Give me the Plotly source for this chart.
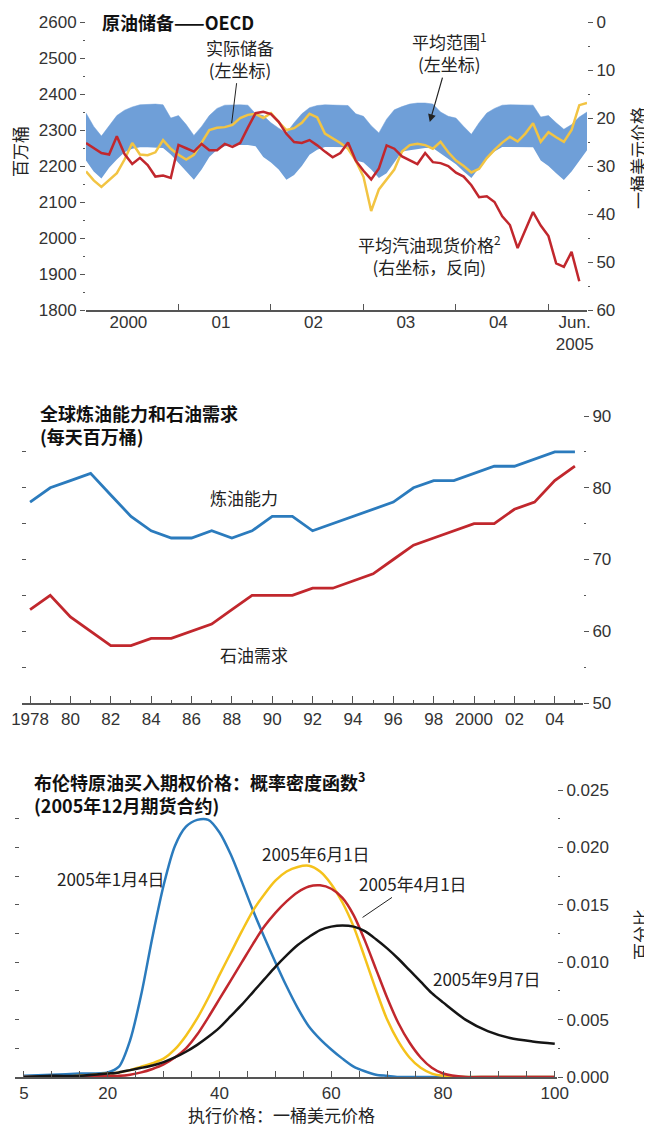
import plotly.graph_objects as go

FONT = "Liberation Sans, Noto Sans CJK SC, sans-serif"
CJK = "Noto Sans CJK SC, Liberation Sans, sans-serif"

BAND = "#6f9fd8"
YELLOW = "#f2c443"
RED = "#c1272d"
BLUE = "#2b7bbd"
BLACK = "#151515"
AXIS = "#555555"
TXT = "#222222"

# the page body keeps its default 8px margin, so the figure is 8px smaller
W, H = 644, 1121

# ---------- panel 1: OECD crude stocks, monthly Jan 2000 .. Jun 2005 ----------
months = list(range(66))
range_low = [2215, 2185, 2165, 2195, 2218, 2238, 2248, 2252, 2252, 2252, 2250, 2232,
             2208, 2185, 2162, 2190, 2225, 2245, 2255, 2258, 2258, 2258, 2255, 2225,
             2210, 2190, 2162, 2175, 2200, 2231, 2245, 2253, 2253, 2253, 2252, 2215,
             2210, 2190, 2167, 2180, 2210, 2240, 2244, 2248, 2250, 2250, 2235, 2222,
             2205, 2185, 2167, 2195, 2222, 2240, 2253, 2253, 2253, 2253, 2252, 2215,
             2200, 2180, 2161, 2185, 2215, 2244]
range_high = [2347, 2310, 2283, 2310, 2340, 2355, 2364, 2370, 2372, 2372, 2370, 2333,
              2340, 2315, 2285, 2310, 2340, 2360, 2369, 2370, 2370, 2369, 2345, 2340,
              2320, 2305, 2292, 2320, 2345, 2362, 2368, 2370, 2370, 2370, 2368, 2345,
              2338, 2312, 2292, 2330, 2356, 2365, 2372, 2375, 2375, 2372, 2350, 2338,
              2333, 2310, 2288, 2320, 2347, 2360, 2369, 2370, 2370, 2370, 2369, 2336,
              2340, 2320, 2302, 2315, 2336, 2350]
stocks = [2185, 2160, 2142, 2160, 2180, 2218, 2264, 2232, 2230, 2238, 2272, 2248,
          2231, 2218, 2231, 2265, 2300, 2306, 2308, 2314, 2333, 2342, 2345, 2333,
          2347, 2322, 2300, 2305, 2320, 2345, 2335, 2290, 2278, 2264, 2248, 2215,
          2170, 2075, 2135, 2161, 2190, 2240, 2258, 2262, 2258, 2248, 2267, 2238,
          2215, 2200, 2182, 2192, 2222, 2245, 2265, 2281, 2268, 2290, 2319, 2267,
          2294, 2280, 2267, 2300, 2369, 2375]
gasoline = [25.2, 26.3, 27.3, 27.6, 23.8, 27.5, 29.6, 28.3, 29.8, 32.2, 32.0, 32.5,
            25.6, 26.3, 27.0, 25.4, 26.7, 26.7, 25.4, 26.0, 25.2, 22.0, 19.0, 18.7,
            19.2, 20.8, 23.3, 25.0, 25.2, 24.6, 25.7, 27.0, 28.2, 27.3, 25.1, 28.9,
            31.0, 32.8, 30.5, 25.7, 26.4, 28.0, 28.8, 29.6, 27.3, 29.2, 29.4, 30.0,
            31.4, 32.2, 34.0, 36.5, 36.3, 37.5, 40.5, 42.3, 47.1, 43.3, 39.6, 42.4,
            44.6, 50.3, 51.0, 47.9, 54.0]
year_starts = [0, 12, 24, 36, 48, 60]
year_mid = [5.5, 17.5, 29.5, 41.5, 53.5, 63.4]
year_labels = ["2000", "01", "02", "03", "04", "Jun.<br>2005"]

# ---------- panel 2: refining capacity vs demand ----------
years = list(range(1978, 2006))
capacity = [78, 80, 81, 82, 79, 76, 74, 73, 73, 74, 73, 74, 76, 76, 74, 75, 76, 77, 78, 80,
            81, 81, 82, 83, 83, 84, 85, 85]
demand = [63, 65, 62, 60, 58, 58, 59, 59, 60, 61, 63, 65, 65, 65, 66, 66, 67, 68, 70, 72,
          73, 74, 75, 75, 77, 78, 81, 83]
year_ticks = list(range(1978, 2005, 2))
year_ticktext = ["1978", "80", "82", "84", "86", "88", "90", "92", "94", "96", "98",
                 "2000", "02", "04"]

# ---------- panel 3: Brent call option implied densities ----------
strike = [5, 10, 15, 20, 22, 24, 26, 28, 30, 32, 34, 36, 38, 40, 42, 44, 46, 48, 50, 52,
          54, 56, 58, 60, 62, 64, 66, 68, 70, 72, 74, 76, 78, 80, 84, 88, 92, 96, 100]
pdf_jan4 = [0.0001, 0.0002, 0.0003, 0.0004, 0.0009, 0.0032, 0.0072, 0.0122, 0.0167, 0.0201,
            0.0218, 0.0224, 0.0224, 0.0213, 0.0194, 0.0170, 0.0145, 0.0122, 0.0100, 0.0079,
            0.0060, 0.0044, 0.0033, 0.0024, 0.0016, 0.0009, 0.0005, 0.0002, 0.0001, 0.0,
            0.0, 0.0, 0.0, 0.0, 0.0, 0.0, 0.0, 0.0, 0.0]
pdf_jun1 = [0.0, 0.0, 0.0001, 0.0003, 0.0004, 0.0006, 0.0009, 0.0012, 0.0016, 0.0024,
            0.0036, 0.0051, 0.0069, 0.0089, 0.0108, 0.0127, 0.0145, 0.0159, 0.0171, 0.0179,
            0.0183, 0.0184, 0.0179, 0.0168, 0.0152, 0.0131, 0.0104, 0.0076, 0.0050, 0.0031,
            0.0017, 0.0008, 0.0003, 0.0001, 0.0, 0.0, 0.0, 0.0, 0.0]
pdf_apr1 = [0.0, 0.0, 0.0, 0.0001, 0.0001, 0.0002, 0.0004, 0.0007, 0.0011, 0.0017,
            0.0025, 0.0037, 0.0052, 0.0068, 0.0084, 0.0100, 0.0116, 0.0131, 0.0143, 0.0153,
            0.0161, 0.0166, 0.0167, 0.0164, 0.0156, 0.0141, 0.0119, 0.0094, 0.0069, 0.0047,
            0.0030, 0.0017, 0.0008, 0.0003, 0.0, 0.0, 0.0, 0.0, 0.0]
pdf_sep7 = [0.0, 0.0001, 0.0001, 0.0003, 0.0004, 0.0006, 0.0008, 0.0010, 0.0013, 0.0017,
            0.0022, 0.0028, 0.0035, 0.0043, 0.0053, 0.0063, 0.0074, 0.0085, 0.0096, 0.0106,
            0.0115, 0.0122, 0.0128, 0.0131, 0.0132, 0.0131, 0.0127, 0.0120, 0.0112, 0.0103,
            0.0093, 0.0083, 0.0073, 0.0065, 0.0050, 0.0040, 0.0034, 0.0031, 0.0029]
strike_ticks = [5, 20, 40, 60, 80, 100]


def px_x(p):
    # page pixel -> paper fraction
    return (p - 8) / W


def px_y(p):
    return (1129 - p) / H


fig = go.Figure()

# panel 1
fig.add_trace(go.Scatter(x=months, y=range_low, mode="lines", line=dict(width=0, color=BAND),
                         hoverinfo="skip"))
fig.add_trace(go.Scatter(x=months, y=range_high, mode="lines", line=dict(width=0.5, color=BAND),
                         fill="tonexty", fillcolor=BAND, name="平均范围"))
fig.add_trace(go.Scatter(x=months, y=stocks, mode="lines", line=dict(width=2.5, color=YELLOW),
                         name="实际储备"))
fig.add_trace(go.Scatter(x=months[:len(gasoline)], y=gasoline, mode="lines", xaxis="x2", yaxis="y2",
                         line=dict(width=2.5, color=RED), name="平均汽油现货价格"))

# panel 2
fig.add_trace(go.Scatter(x=years, y=capacity, mode="lines", xaxis="x3", yaxis="y3",
                         line=dict(width=2.8, color=BLUE), name="炼油能力"))
fig.add_trace(go.Scatter(x=years, y=demand, mode="lines", xaxis="x3", yaxis="y4",
                         line=dict(width=2.8, color=RED), name="石油需求"))

# panel 3
fig.add_trace(go.Scatter(x=strike, y=pdf_jan4, mode="lines", xaxis="x4", yaxis="y5",
                         line=dict(width=2.5, color=BLUE, shape="spline", smoothing=0.8),
                         name="2005年1月4日"))
fig.add_trace(go.Scatter(x=strike, y=pdf_jun1, mode="lines", xaxis="x4", yaxis="y5",
                         line=dict(width=2.5, color="#f5c21b", shape="spline", smoothing=0.8),
                         name="2005年6月1日"))
fig.add_trace(go.Scatter(x=strike, y=pdf_apr1, mode="lines", xaxis="x4", yaxis="y6",
                         line=dict(width=2.5, color=RED, shape="spline", smoothing=0.8),
                         name="2005年4月1日"))
fig.add_trace(go.Scatter(x=strike, y=pdf_sep7, mode="lines", xaxis="x4", yaxis="y6",
                         line=dict(width=2.5, color=BLACK, shape="spline", smoothing=0.8),
                         name="2005年9月7日"))

tickfont = dict(family=FONT, size=17, color="#333333")
base = dict(showgrid=False, zeroline=False, tickfont=tickfont, fixedrange=True, automargin=False)

fig.update_layout(
    template="none",
    width=W, height=H,
    margin=dict(l=0, r=0, t=0, b=0, pad=0, autoexpand=False),
    paper_bgcolor="white", plot_bgcolor="white",
    showlegend=False,
    font=dict(family=CJK, color=TXT),
    # panel 1
    xaxis=dict(base, domain=[px_x(86), px_x(587)], anchor="y", range=[0, 65],
               tickmode="array", tickvals=year_starts, showticklabels=False,
               ticks="inside", ticklen=6, tickcolor=AXIS,
               showline=True, linecolor=AXIS, linewidth=2),
    xaxis2=dict(base, overlaying="x", anchor="y", range=[0, 65], showline=False,
                tickmode="array", tickvals=year_mid, ticktext=year_labels, ticks=""),
    yaxis=dict(base, domain=[px_y(310), px_y(22)], anchor="x", range=[1800, 2600], showline=False,
               tick0=0, dtick=100, ticks="outside", ticklen=5, tickcolor=AXIS,
               minor=dict(tickmode="linear", tick0=0, dtick=50, ticks="outside", ticklen=2,
                          tickcolor=AXIS)),
    yaxis2=dict(base, overlaying="y", anchor="x", side="right", range=[60, 0], showline=False,
                tick0=0, dtick=10, ticks="outside", ticklen=5, tickcolor=AXIS,
                minor=dict(tickmode="linear", tick0=0, dtick=5, ticks="outside", ticklen=2,
                           tickcolor=AXIS)),
    # panel 2
    xaxis3=dict(base, domain=[px_x(22), px_x(583)], anchor="y3", range=[1977.6, 2005.4],
                tickmode="array", tickvals=year_ticks, ticktext=year_ticktext,
                ticks="inside", ticklen=7, tickcolor=AXIS,
                minor=dict(tickmode="array", tickvals=list(range(1979, 2006, 2)),
                           ticks="inside", ticklen=3, tickcolor=AXIS),
                showline=True, linecolor=AXIS, linewidth=2),
    yaxis3=dict(base, domain=[px_y(703), px_y(416)], anchor="x3", side="right", range=[50, 90],
                showline=False, tick0=0, dtick=10, ticks="outside", ticklen=5, tickcolor=AXIS,
                minor=dict(tickmode="linear", tick0=0, dtick=5, ticks="outside", ticklen=2,
                           tickcolor=AXIS)),
    yaxis4=dict(base, overlaying="y3", anchor="x3", side="left", range=[50, 90],
                showline=False, tick0=0, dtick=5, ticks="inside", ticklen=4, tickcolor=AXIS,
                showticklabels=False),
    # panel 3
    xaxis4=dict(base, domain=[px_x(15), px_x(557)], anchor="y5", range=[3.4, 100.4],
                tickmode="array", tickvals=strike_ticks,
                ticks="inside", ticklen=6, tickcolor=AXIS,
                minor=dict(tickmode="linear", tick0=0, dtick=5, ticks="inside", ticklen=6,
                           tickcolor=AXIS),
                showline=True, linecolor=AXIS, linewidth=2),
    yaxis5=dict(base, domain=[px_y(1077), px_y(790)], anchor="x4", side="right", range=[0, 0.025],
                showline=False, tick0=0, dtick=0.005, tickformat=".3f", ticks="outside",
                ticklen=5, tickcolor=AXIS,
                minor=dict(tickmode="linear", tick0=0, dtick=0.0025, ticks="outside",
                           ticklen=2, tickcolor=AXIS)),
    yaxis6=dict(base, overlaying="y5", anchor="x4", side="left", range=[0, 0.025],
                showline=False, tick0=0, dtick=0.0025, ticks="inside", ticklen=4,
                tickcolor=AXIS, showticklabels=False),
)

lab = dict(family=CJK, size=17, color=TXT)
bold = dict(family=CJK, size=18, color="#111111")
mid = dict(xanchor="center", yanchor="middle")

annotations = [
    # panel 1
    dict(xref="x", yref="y", x=1.8, y=2600, xanchor="left", yanchor="middle",
         text="<b>原油储备——OECD</b>", showarrow=False, font=bold),
    dict(xref="x", yref="y", x=18.9, y=2319, text="实际储备<br>(左坐标)", font=lab,
         showarrow=True, arrowhead=0, arrowwidth=1, arrowcolor=TXT, ax=8, ay=-65),
    dict(xref="x", yref="y", x=44.6, y=2322, text="平均范围<sup>1</sup><br>(左坐标)", font=lab,
         showarrow=True, arrowhead=2, arrowsize=1.3, arrowwidth=1.2, arrowcolor=TXT,
         ax=20, ay=-70),
    dict(mid, xref="x", yref="y", x=44.6, y=1953, showarrow=False, font=lab,
         text="平均汽油现货价格<sup>2</sup><br>(右坐标，反向)"),
    dict(mid, xref="paper", yref="paper", x=px_x(19), y=px_y(152), text="百万桶",
         textangle=-90, showarrow=False, font=lab),
    dict(mid, xref="paper", yref="paper", x=px_x(637), y=px_y(158), text="一桶美元价格",
         textangle=-90, showarrow=False, font=lab),
    # panel 2
    dict(xref="x3", yref="y3", x=1978.4, y=88.8, xanchor="left", yanchor="middle", align="left",
         text="<b>全球炼油能力和石油需求<br>(每天百万桶)</b>", showarrow=False, font=bold),
    dict(mid, xref="x3", yref="y3", x=1988.6, y=78.7, text="炼油能力", showarrow=False, font=lab),
    dict(mid, xref="x3", yref="y3", x=1989.1, y=56.7, text="石油需求", showarrow=False, font=lab),
    # panel 3
    dict(xref="x4", yref="y5", x=6.4, y=0.02474, xanchor="left", yanchor="middle", align="left",
         text="<b>布伦特原油买入期权价格：概率密度函数<sup>3</sup><br>(2005年12月期货合约)</b>",
         showarrow=False, font=bold),
    dict(mid, xref="x4", yref="y5", x=20.6, y=0.01733, text="2005年1月4日", showarrow=False, font=lab),
    dict(mid, xref="x4", yref="y5", x=57.3, y=0.01951, text="2005年6月1日", showarrow=False, font=lab),
    dict(xref="x4", yref="y5", x=65.6, y=0.0139, text="2005年4月1日", font=lab,
         showarrow=True, arrowhead=0, arrowwidth=1, arrowcolor=TXT, ax=50, ay=-34),
    dict(mid, xref="x4", yref="y5", x=87.8, y=0.00862, text="2005年9月7日", showarrow=False, font=lab),
    dict(mid, xref="paper", yref="paper", x=px_x(281), y=px_y(1114),
         text="执行价格：一桶美元价格", showarrow=False, font=lab),
    dict(mid, xref="paper", yref="paper", x=px_x(640), y=px_y(935), text="百分比",
         textangle=-90, showarrow=False, font=lab),
]
fig.update_layout(annotations=annotations)

fig.write_html("out.html")
